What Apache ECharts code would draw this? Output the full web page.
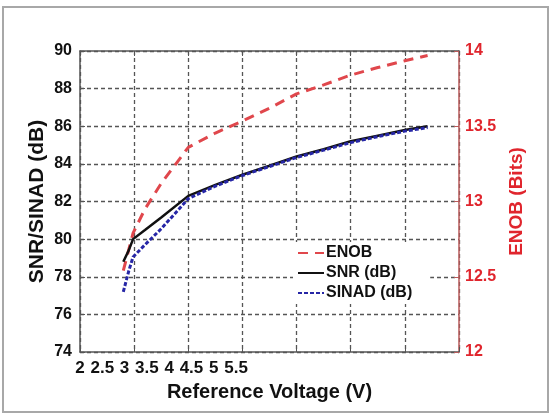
<!DOCTYPE html>
<html>
<head>
<meta charset="utf-8">
<script src="https://cdn.jsdelivr.net/npm/echarts@6/dist/echarts.min.js"></script>
<style>
html,body{margin:0;padding:0;background:#fff;}
#chart{width:551px;height:415px;}
</style>
</head>
<body>
<div id="chart"></div>
<script>
// ---- data ----
const voltage = [2.40, 2.45, 2.49, 2.60, 2.75, 3.00, 3.25, 3.50, 3.75, 4.00, 4.25, 4.50, 4.75, 5.00, 5.21];
const snr     = [78.8, 79.4, 80.0, 80.48, 81.15, 82.3, 82.88, 83.42, 83.9, 84.39, 84.78, 85.2, 85.5, 85.8, 86.0];
const sinad   = [77.2, 78.3, 79.05, 79.7, 80.55, 82.15, 82.82, 83.38, 83.86, 84.34, 84.73, 85.13, 85.45, 85.74, 85.93];
const enob    = [12.54, 12.68, 12.79, 12.95, 13.12, 13.36, 13.455, 13.535, 13.62, 13.715, 13.775, 13.84, 13.89, 13.935, 13.97];
const xTickLabels = ['2', '2.5', '3', '3.5', '4', '4.5', '5', '5.5'];
const seriesNames = ['ENOB', 'SNR (dB)', 'SINAD (dB)'];

const FONT = "'Liberation Sans', Arial, sans-serif";
const labelSlots = xTickLabels.concat(new Array(10).fill(''));
const pairs = arr => voltage.map((v, i) => [v, arr[i]]);

const chart = echarts.init(document.getElementById('chart'), null, {renderer: 'canvas'});
chart.setOption({
  backgroundColor: '#fff',
  animation: false,
  graphic: [{
    type: 'rect', z: -1,
    shape: {x: 3, y: 7, width: 545, height: 405},
    style: {fill: 'none', stroke: '#a8a8a8', lineWidth: 2}
  }],
  grid: {left: 80, right: 92, top: 51, bottom: 63, containLabel: false},
  legend: {
    orient: 'vertical', left: 293, top: 242,
    itemWidth: 26, itemHeight: 14, itemGap: 4,
    padding: [3, 18, 3, 4],
    backgroundColor: '#fff',
    itemStyle: {opacity: 0},
    data: [seriesNames[0], seriesNames[1], seriesNames[2]],
    textStyle: {fontFamily: FONT, fontSize: 16, fontWeight: 'bold', color: '#111', padding: [0, 0, 0, -3]}
  },
  xAxis: [{
    type: 'value', min: 2, max: 5.5, interval: 0.5, position: 'bottom',
    axisLine: {show: true, lineStyle: {color: '#555', width: 1.5}},
    axisTick: {show: true, inside: true, length: 5, lineStyle: {color: '#555'}},
    axisLabel: {show: false},
    splitLine: {show: true, lineStyle: {color: '#555', width: 1.3, type: [4, 3]}},
    name: 'Reference Voltage (V)', nameLocation: 'middle', nameGap: 30,
    nameTextStyle: {fontFamily: FONT, fontSize: 20, fontWeight: 'bold', color: '#111'}
  }, {
    type: 'category', data: labelSlots, boundaryGap: false, position: 'bottom',
    axisLine: {show: false}, axisTick: {show: false}, splitLine: {show: false},
    axisLabel: {interval: 0, margin: 8, fontFamily: FONT, fontSize: 17, fontWeight: 'bold', color: '#111'}
  }, {
    type: 'value', min: 2, max: 5.5, interval: 0.5, position: 'top',
    axisLine: {show: true, lineStyle: {color: '#555', width: 1.5}},
    axisTick: {show: true, inside: true, length: 5, lineStyle: {color: '#555'}},
    axisLabel: {show: false}, splitLine: {show: false}
  }],
  yAxis: [{
    type: 'value', min: 74, max: 90, interval: 2, position: 'left',
    axisLine: {show: true, lineStyle: {color: '#555', width: 1.5}},
    axisTick: {show: true, inside: true, length: 5, lineStyle: {color: '#555'}},
    axisLabel: {margin: 8, fontFamily: FONT, fontSize: 16, fontWeight: 'bold', color: '#111'},
    splitLine: {show: true, lineStyle: {color: '#555', width: 1.3, type: [4, 3]}},
    name: 'SNR/SINAD (dB)', nameLocation: 'middle', nameGap: 32, nameRotate: 90,
    nameMoveOverlap: false,
    nameTextStyle: {fontFamily: FONT, fontSize: 21, fontWeight: 'bold', color: '#111'}
  }, {
    type: 'value', min: 12, max: 14, interval: 0.5, position: 'right',
    axisLine: {show: true, lineStyle: {color: '#b85a5a', width: 1.5}},
    axisTick: {show: true, inside: true, length: 5, lineStyle: {color: '#b85a5a'}},
    axisLabel: {margin: 6, fontFamily: FONT, fontSize: 16, fontWeight: 'bold', color: '#e0252d'},
    splitLine: {show: false},
    name: 'ENOB (Bits)', nameLocation: 'middle', nameGap: 44, nameRotate: 90,
    nameTextStyle: {fontFamily: FONT, fontSize: 19, fontWeight: 'bold', color: '#e0252d'}
  }],
  series: [{
    name: seriesNames[0], type: 'line', xAxisIndex: 0, yAxisIndex: 1,
    data: pairs(enob), showSymbol: false, symbol: 'none',
    lineStyle: {color: '#e0474c', width: 3, type: [10, 7]},
    itemStyle: {color: '#e0474c'}, z: 3
  }, {
    name: seriesNames[1], type: 'line', xAxisIndex: 0, yAxisIndex: 0,
    data: pairs(snr), showSymbol: false, symbol: 'none',
    lineStyle: {color: '#111', width: 2.5, type: 'solid'},
    itemStyle: {color: '#111'}, z: 4
  }, {
    name: seriesNames[2], type: 'line', xAxisIndex: 0, yAxisIndex: 0,
    data: pairs(sinad), showSymbol: false, symbol: 'none',
    lineStyle: {color: '#2626a6', width: 3, type: [4, 2]},
    itemStyle: {color: '#2626a6'}, z: 5
  }]
});
</script>
</body>
</html>
